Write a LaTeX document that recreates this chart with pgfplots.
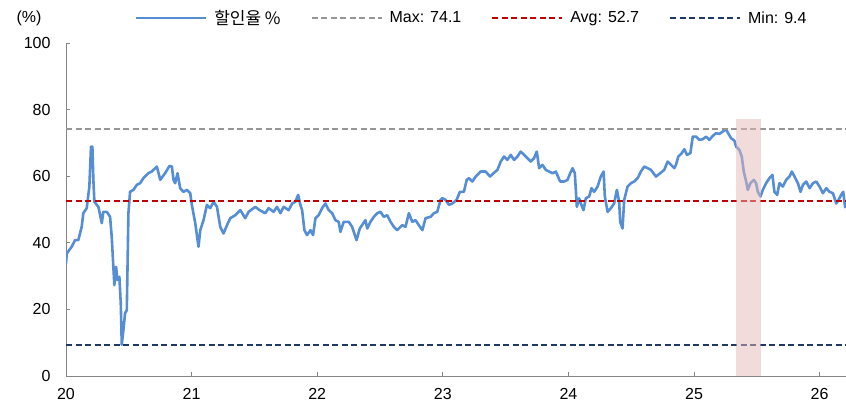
\documentclass[border=0pt]{standalone}
\usepackage{fontspec}
\setmainfont{Liberation Sans}
\newfontfamily\kr{Noto Sans CJK KR}
\usepackage{pgfplots}
\pgfplotsset{compat=1.18}
\definecolor{lblue}{RGB}{85,142,213}
\definecolor{dgray}{RGB}{150,150,150}
\definecolor{dred}{RGB}{192,0,0}
\definecolor{dnavy}{RGB}{31,56,100}
\definecolor{shade}{RGB}{230,184,183}
\definecolor{axgray}{RGB}{134,134,134}
\begin{document}
\begin{tikzpicture}[font=\fontsize{16bp}{19bp}\selectfont]
\path[use as bounding box] (-66bp,-34bp) rectangle (780bp,376bp);
\begin{axis}[
 scale only axis, width=780bp, height=333bp,
 xmin=20, xmax=26.21, ymin=0, ymax=100,
 axis x line*=bottom, axis y line*=left,
 axis line style={draw=axgray, line width=0.8bp},
 xtick={20,21,22,23,24,25,26}, ytick={0,20,40,60,80,100},
 tick align=inside, tick style={axgray, line width=0.8bp}, major tick length=4bp,
 /pgf/number format/assume math mode=true,
 yticklabel style={xshift=-12bp},
 xticklabel style={yshift=-9bp},
 legend columns=4,
 legend style={draw=none, fill=none, at={(0.52,1.075)}, anchor=center,
   /tikz/every even column/.append style={column sep=28bp}},
 legend image code/.code={\draw[#1] (0bp,0bp) -- (70bp,0bp); \path (75bp,0bp);},
 legend cell align=left,
]
\addplot[lblue, line width=2.6bp, line join=round] coordinates {
(20.000,33.8) (20.006,36.8) (20.045,38.8) (20.072,40.8) (20.098,40.8) (20.125,44.8)
(20.138,48.9) (20.165,50.4) (20.186,56.9) (20.199,68.9) (20.210,68.9) (20.218,58.9)
(20.226,52.3) (20.258,50.8) (20.285,45.9) (20.297,49.3) (20.325,49.3) (20.351,47.8)
(20.364,41.8) (20.377,32.8) (20.385,27.3) (20.399,32.8) (20.409,28.8) (20.425,29.8)
(20.436,21.8) (20.444,9.4) (20.457,13.8) (20.470,18.8) (20.484,19.8) (20.497,48.9)
(20.510,55.3) (20.537,55.9) (20.564,57.4) (20.590,57.9) (20.616,59.4) (20.656,60.9)
(20.683,61.4) (20.723,62.9) (20.744,59.9) (20.750,58.9) (20.789,60.9) (20.824,63.1)
(20.843,62.9) (20.856,58.9) (20.869,57.9) (20.888,60.9) (20.909,56.4) (20.935,55.3)
(20.963,55.9) (20.989,54.9) (21.002,51.4) (21.029,45.9) (21.055,38.8) (21.069,43.8)
(21.095,46.8) (21.122,51.4) (21.148,50.4) (21.175,52.3) (21.202,50.8) (21.228,44.8)
(21.254,42.8) (21.282,45.3) (21.308,47.4) (21.348,48.3) (21.388,49.8) (21.427,47.4)
(21.454,49.3) (21.507,50.8) (21.541,49.8) (21.587,48.9) (21.613,50.4) (21.653,49.3)
(21.680,50.8) (21.707,48.9) (21.733,50.8) (21.773,49.8) (21.800,51.8) (21.826,52.3)
(21.848,54.4) (21.866,51.4) (21.880,49.8) (21.898,43.8) (21.919,42.3) (21.946,43.8)
(21.967,42.3) (21.986,47.4) (22.012,48.3) (22.039,50.4) (22.065,51.8) (22.092,49.8)
(22.119,48.9) (22.145,46.8) (22.171,46.3) (22.185,43.3) (22.211,46.3) (22.251,46.3)
(22.278,44.8) (22.313,40.8) (22.339,44.3) (22.384,46.8) (22.398,44.3) (22.424,46.3)
(22.451,47.8) (22.478,48.9) (22.504,49.3) (22.530,47.8) (22.557,48.3) (22.584,46.3)
(22.610,44.8) (22.637,43.8) (22.677,45.3) (22.703,44.8) (22.730,48.9) (22.757,46.3)
(22.783,46.8) (22.809,45.3) (22.837,43.8) (22.863,47.4) (22.903,47.8) (22.929,48.9)
(22.956,49.3) (22.982,52.9) (22.996,53.4) (23.022,52.9) (23.049,51.4) (23.076,51.8)
(23.110,52.9) (23.136,55.3) (23.168,55.3) (23.190,58.9) (23.208,59.4) (23.235,58.4)
(23.262,59.9) (23.301,61.4) (23.341,61.4) (23.376,59.9) (23.407,61.0) (23.435,61.9)
(23.461,64.4) (23.487,65.9) (23.514,64.9) (23.541,66.4) (23.567,64.9) (23.594,65.9)
(23.620,67.4) (23.647,66.4) (23.674,65.4) (23.700,64.4) (23.726,65.4) (23.748,67.4)
(23.767,62.4) (23.793,63.4) (23.820,61.9) (23.846,61.4) (23.873,60.9) (23.900,61.4)
(23.934,58.4) (23.966,58.4) (23.993,58.9) (24.014,60.9) (24.033,62.4) (24.051,60.9)
(24.067,50.8) (24.085,53.4) (24.099,51.8) (24.120,49.8) (24.139,53.4) (24.165,53.9)
(24.184,56.4) (24.205,55.3) (24.232,56.9) (24.258,59.9) (24.280,61.4) (24.290,53.9)
(24.312,49.3) (24.338,50.4) (24.364,51.8) (24.386,55.9) (24.404,52.3) (24.412,46.3)
(24.431,44.3) (24.444,52.9) (24.471,56.9) (24.498,57.9) (24.524,58.4) (24.551,59.4)
(24.577,61.4) (24.604,62.9) (24.631,62.4) (24.657,61.9) (24.697,59.9) (24.731,60.9)
(24.763,61.9) (24.790,64.4) (24.817,63.4) (24.843,62.4) (24.856,63.4) (24.875,65.9)
(24.902,66.9) (24.923,68.1) (24.944,66.4) (24.971,66.9) (24.990,71.9) (25.016,71.9)
(25.042,70.9) (25.069,71.1) (25.096,71.9) (25.122,70.9) (25.149,72.1) (25.175,72.9)
(25.202,72.7) (25.229,73.4) (25.255,74.1) (25.269,73.1) (25.295,71.4) (25.321,70.7)
(25.335,68.9) (25.361,67.9) (25.380,65.9) (25.396,61.4) (25.415,58.4) (25.428,55.9)
(25.449,57.9) (25.476,58.9) (25.494,57.9) (25.508,55.3) (25.529,53.9) (25.548,55.9)
(25.574,57.9) (25.600,59.4) (25.624,60.4) (25.640,55.3) (25.662,54.4) (25.680,57.9)
(25.707,56.9) (25.734,58.9) (25.760,59.9) (25.779,61.4) (25.800,59.9) (25.827,57.9)
(25.848,55.3) (25.867,57.4) (25.893,58.4) (25.920,56.4) (25.947,57.9) (25.973,58.4)
(25.999,56.9) (26.026,54.9) (26.053,56.4) (26.079,55.3) (26.106,54.9) (26.132,51.8)
(26.151,52.9) (26.172,54.4) (26.188,55.3) (26.204,50.4)
};
\addlegendentry{{\kr\fontsize{17bp}{19bp}\selectfont 할인율 \%}}
\addplot[dgray, line width=2bp, dash pattern=on 6bp off 3.5bp] coordinates {(20,74.1) (26.21,74.1)};
\addlegendentry{Max: 74.1}
\addplot[dred, line width=2bp, dash pattern=on 6bp off 3.5bp] coordinates {(20,52.7) (26.21,52.7)};
\addlegendentry{Avg: 52.7}
\addplot[dnavy, line width=2bp, dash pattern=on 6bp off 3.5bp] coordinates {(20,9.4) (26.21,9.4)};
\addlegendentry{Min: 9.4}
\addplot[forget plot, draw=none, fill=shade, fill opacity=0.5] coordinates {(25.335,0) (25.335,77.2) (25.535,77.2) (25.535,0)} -- cycle;
\end{axis}
\node at (-37bp,358bp) {(\%)};
\end{tikzpicture}
\end{document}
